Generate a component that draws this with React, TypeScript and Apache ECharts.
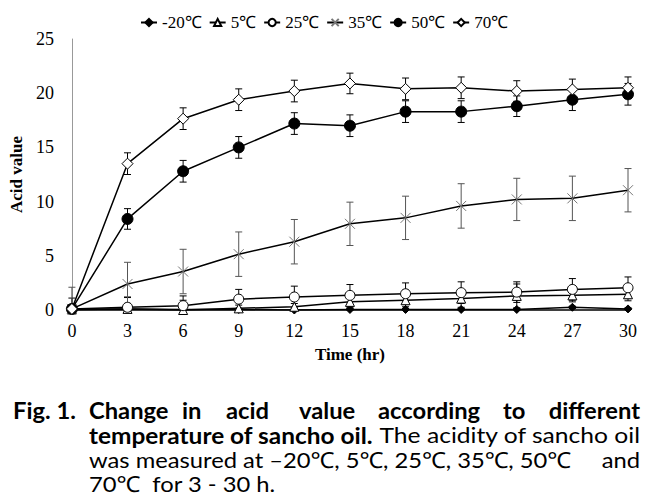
import React, { useEffect, useRef } from "react";
import * as echarts from "echarts";

const times = [0, 3, 6, 9, 12, 15, 18, 21, 24, 27, 30];
const seriesNames = ["-20℃", "5℃", "25℃", "35℃", "50℃", "70℃"];
const m20 = [0.05, 0.1, 0.05, 0.05, 0.0, 0.05, 0.05, 0.05, 0.05, 0.25, 0.1];
const m20Err = [0, 0.1, 0.1, 0.1, 0.1, 0.1, 0.1, 0.1, 0.1, 0.1, 0.1];
const t5 = [0.05, 0.1, 0.0, 0.15, 0.3, 0.75, 0.9, 1.05, 1.3, 1.35, 1.45];
const t5Err = [0, 1.1, 0.9, 0.3, 0.3, 0.5, 0.6, 0.8, 1.1, 0.6, 0.6];
const t25 = [0.1, 0.25, 0.4, 1.0, 1.2, 1.35, 1.5, 1.6, 1.65, 1.9, 2.05];
const t25Err = [1.0, 0.9, 0.9, 0.9, 1.0, 1.0, 1.0, 1.0, 0.95, 1.0, 1.0];
const t35 = [0.1, 2.4, 3.55, 5.15, 6.3, 7.95, 8.5, 9.6, 10.2, 10.3, 11.05];
const t35Err = [2.0, 2.0, 2.05, 2.05, 2.05, 2.0, 2.0, 2.05, 1.95, 2.05, 2.0];
const t50 = [0.1, 8.4, 12.8, 15.0, 17.2, 17.0, 18.3, 18.3, 18.8, 19.4, 19.9];
const t50Err = [0, 0.95, 1.0, 1.0, 1.0, 1.0, 1.0, 1.0, 0.95, 1.0, 1.0];
const t70 = [0.1, 13.5, 17.65, 19.4, 20.2, 20.9, 20.4, 20.5, 20.2, 20.35, 20.5];
const t70Err = [0, 1.0, 1.0, 1.0, 1.0, 0.95, 1.0, 1.0, 0.95, 0.95, 1.0];

const values = [m20, t5, t25, t35, t50, t70];
const errors = [m20Err, t5Err, t25Err, t35Err, t50Err, t70Err];
const errColors = ["#000", "#000", "#000", "#555", "#000", "#000"];

const symbols: any[] = [
  { symbol: "diamond", size: 8, fill: "#000", border: "#000" },
  { symbol: "triangle", size: 9, fill: "#fff", border: "#000" },
  { symbol: "circle", size: 10, fill: "#fff", border: "#000" },
  { symbol: "path://M0,0L10,10M10,0L0,10", size: 10, fill: "none", border: "#777" },
  { symbol: "circle", size: 11, fill: "#000", border: "#000" },
  { symbol: "diamond", size: 11, fill: "#fff", border: "#000" },
];

const serif = "'Liberation Serif', 'Times New Roman', serif";
const capFont = "Lato, 'Noto Sans', sans-serif";

export default function App() {
  const ref = useRef<HTMLDivElement>(null);
  useEffect(() => {
    if (!ref.current) return;
    const chart = echarts.init(ref.current, null, { renderer: "svg" });

    const errSeries = values.map((vals, si) => ({
      type: "custom",
      name: "err" + si,
      z: 1,
      data: times.map((t, i) => [t, vals[i], errors[si][i]]),
      renderItem: (params: any, api: any) => {
        const x = api.value(0);
        const y = api.value(1);
        const e = api.value(2);
        if (!e) return null;
        const lo = Math.max(0, y - e);
        const top = api.coord([x, y + e]);
        const bot = api.coord([x, lo]);
        const w = 3.5;
        const st = { stroke: errColors[si], lineWidth: 1 };
        const children: any[] = [
          { type: "line", shape: { x1: top[0], y1: top[1], x2: bot[0], y2: bot[1] }, style: st },
          { type: "line", shape: { x1: top[0] - w, y1: top[1], x2: top[0] + w, y2: top[1] }, style: st },
        ];
        if (y - e > 0) {
          children.push({ type: "line", shape: { x1: bot[0] - w, y1: bot[1], x2: bot[0] + w, y2: bot[1] }, style: st });
        }
        return { type: "group", children };
      },
      silent: true,
    }));

    const lineSeries = values.map((vals, si) => ({
      type: "line",
      name: seriesNames[si],
      z: 3,
      data: times.map((t, i) => [t, vals[i]]),
      symbol: symbols[si].symbol,
      symbolSize: symbols[si].size,
      showAllSymbol: true,
      lineStyle: { color: "#000", width: 1.5 },
      itemStyle: { color: symbols[si].fill, borderColor: symbols[si].border, borderWidth: 1 },
    }));

    const bold = { fontFamily: capFont, fontWeight: "bold", fontSize: 22, fill: "#000" };
    const reg = { fontFamily: capFont, fontWeight: "normal", fontSize: 22, fill: "#000" };
    const txt = (text: string, x: number, y: number, style: any, align = "left", sx = 1.08) => ({
      type: "text",
      x,
      y,
      scaleX: sx,
      style: { ...style, text, textAlign: align, textVerticalAlign: "middle" },
    });

    chart.setOption({
      animation: false,
      backgroundColor: "#fff",
      grid: { left: 69, right: 31, top: 39, bottom: 193 },
      legend: {
        data: seriesNames,
        left: 135,
        top: 9,
        itemWidth: 16,
        itemHeight: 9,
        itemGap: 7,
        textStyle: { fontFamily: serif, fontSize: 17, color: "#000" },
      },
      xAxis: {
        type: "value",
        min: 0,
        max: 30,
        interval: 3,
        name: "Time (hr)",
        nameLocation: "middle",
        nameGap: 36,
        nameTextStyle: { fontFamily: serif, fontWeight: "bold", fontSize: 17, color: "#000" },
        axisLine: { show: true, lineStyle: { color: "#000", width: 1.5 } },
        axisTick: { show: false },
        splitLine: { show: false },
        axisLabel: { fontFamily: serif, fontSize: 18, color: "#000", margin: 12 },
      },
      yAxis: {
        type: "value",
        min: 0,
        max: 25,
        interval: 5,
        name: "Acid value",
        nameLocation: "middle",
        nameGap: 42,
        nameTextStyle: { fontFamily: serif, fontWeight: "bold", fontSize: 17, color: "#000" },
        axisLine: { show: true, lineStyle: { color: "#999", width: 1 } },
        axisTick: { show: false },
        splitLine: { show: false },
        axisLabel: { fontFamily: serif, fontSize: 18, color: "#000", margin: 18 },
      },
      graphic: [
        txt("Fig. 1.", 13, 410, bold),
        txt("Change", 89, 410, bold),
        txt("in", 182, 410, bold),
        txt("acid", 226, 410, bold),
        txt("value", 299, 410, bold),
        txt("according", 378, 410, bold),
        txt("to", 503, 410, bold),
        txt("different", 640, 410, bold, "right"),
        txt("temperature of sancho oil.", 89, 435, bold, "left", 1.11),
        txt("The acidity of sancho oil", 640, 435, reg, "right", 1.12),
        txt("was measured at –20℃, 5℃, 25℃, 35℃, 50℃", 89, 459, reg),
        txt("and", 640, 459, reg, "right"),
        txt("70℃  for 3 - 30 h.", 89, 483, reg),
      ],
      series: [...errSeries, ...lineSeries],
    });
    return () => chart.dispose();
  }, []);
  return (
    <div
      ref={ref}
      style={{ position: "fixed", left: 0, top: 0, width: 659, height: 503, background: "#fff" }}
    />
  );
}
